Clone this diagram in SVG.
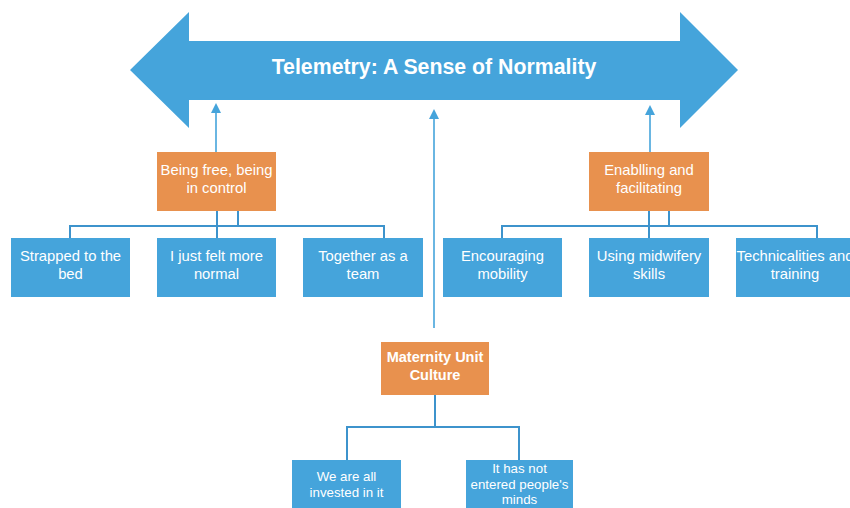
<svg xmlns="http://www.w3.org/2000/svg" width="850" height="508" viewBox="0 0 850 508">
<defs>
<style>
.blue{fill:#45a4db;}
.orange{fill:#e8914e;}
.t{font-family:"Liberation Sans",Arial,sans-serif;font-size:14.8px;fill:#fff;text-anchor:middle;}
.ts{font-family:"Liberation Sans",Arial,sans-serif;font-size:13.3px;fill:#fff;text-anchor:middle;}
.b{font-weight:bold;}
.ln{stroke:#3d93cc;stroke-width:2;fill:none;}
.al{stroke:#45a4db;stroke-width:1.6;fill:none;}
</style>
</defs>
<rect width="850" height="508" fill="#fff"/>
<g id="main">
<polygon class="blue" points="130,70 189,12 189,41 680,41 680,12 738,70 680,128 680,100 189,100 189,128"/>
<text class="t b" x="434" y="74" style="font-size:21.3px">Telemetry: A Sense of Normality</text>
</g>
<g id="connectors">
<line class="al" x1="216" y1="152" x2="216" y2="112"/>
<path d="M211,113 L216,103 L221,113 Z" fill="#45a4db"/>
<line class="al" x1="434" y1="328" x2="434" y2="118"/>
<path d="M429,119 L434,109 L439,119 Z" fill="#45a4db"/>
<line class="al" x1="650" y1="152" x2="650" y2="114"/>
<path d="M645,115 L650,105 L655,115 Z" fill="#45a4db"/>
<path class="ln" d="M217,211 V238 M238,211 V226 M70,238 V226 H384 V238"/>
<path class="ln" d="M649,211 V238 M669,211 V226 M502,238 V226 H817 V238"/>
<path class="ln" d="M435,395 V427 M347,460 V427 H519 V460"/>
</g>
<g id="being-free">
<rect class="orange" x="157" y="152" width="119" height="59"/>
<text class="t" x="216.5" y="175">Being free, being</text>
<text class="t" x="216.5" y="193">in control</text>
</g>
<g id="strapped">
<rect class="blue" x="11" y="238" width="119" height="59"/>
<text class="t" x="70.5" y="261">Strapped to the</text>
<text class="t" x="70.5" y="279">bed</text>
</g>
<g id="felt-normal">
<rect class="blue" x="157" y="238" width="119" height="59"/>
<text class="t" x="216.5" y="261">I just felt more</text>
<text class="t" x="216.5" y="279">normal</text>
</g>
<g id="together">
<rect class="blue" x="303" y="238" width="120" height="59"/>
<text class="t" x="363" y="261">Together as a</text>
<text class="t" x="363" y="279">team</text>
</g>
<g id="enabling">
<rect class="orange" x="589" y="152" width="120" height="59"/>
<text class="t" x="649" y="175">Enablling and</text>
<text class="t" x="649" y="193">facilitating</text>
</g>
<g id="mobility">
<rect class="blue" x="443" y="238" width="119" height="59"/>
<text class="t" x="502.5" y="261">Encouraging</text>
<text class="t" x="502.5" y="279">mobility</text>
</g>
<g id="midwifery">
<rect class="blue" x="589" y="238" width="120" height="59"/>
<text class="t" x="649" y="261">Using midwifery</text>
<text class="t" x="649" y="279">skills</text>
</g>
<g id="technicalities">
<rect class="blue" x="736" y="238" width="119" height="59"/>
<text class="t" x="795" y="261">Technicalities and</text>
<text class="t" x="795" y="279">training</text>
</g>
<g id="culture">
<rect class="orange" x="381" y="342" width="108" height="53"/>
<text class="t b" x="435" y="362" style="font-size:14.5px">Maternity Unit</text>
<text class="t b" x="435" y="380" style="font-size:14.5px">Culture</text>
</g>
<g id="invested">
<rect class="blue" x="292" y="460" width="109" height="48"/>
<text class="ts" x="346.5" y="481">We are all</text>
<text class="ts" x="346.5" y="497">invested in it</text>
</g>
<g id="not-entered">
<rect class="blue" x="466" y="460" width="107" height="48"/>
<text class="ts" x="519.5" y="473">It has not</text>
<text class="ts" x="519.5" y="489">entered people's</text>
<text class="ts" x="519.5" y="504">minds</text>
</g>
</svg>
